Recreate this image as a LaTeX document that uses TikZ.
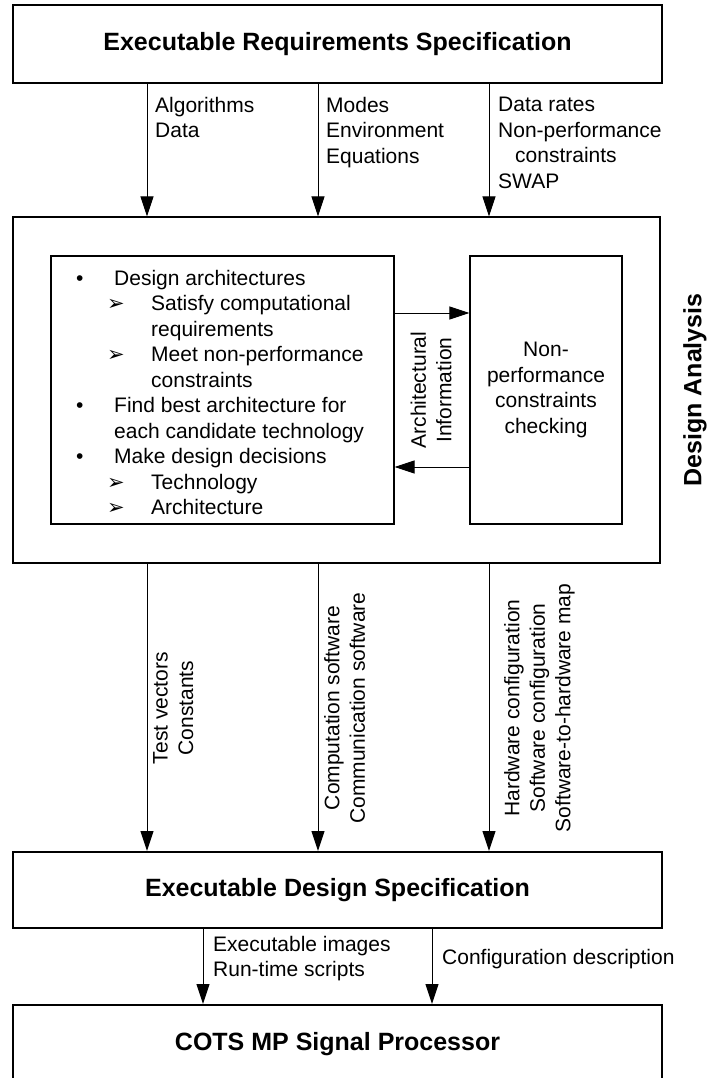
\documentclass[tikz,border=0pt]{standalone}
\usepackage{fontspec}
\setmainfont{Liberation Sans}
\newfontfamily\symfont{DejaVu Sans}
\usetikzlibrary{arrows.meta}

% text sizes (1pt = 1 unit of the drawing)
\newcommand\lblfont{\fontsize{21}{25.5}\selectfont}
\newcommand\titlefont{\fontsize{25}{30}\selectfont\bfseries}
% list markers
\newcommand\dotpoint{\makebox[38pt][l]{•}}
\newcommand\subpoint{\hspace*{31pt}\makebox[44pt][l]{\symfont\fontsize{21}{25}\selectfont ➢}}

\tikzset{
  heavybox/.style={draw, line width=2pt, inner sep=0pt, font=\titlefont},
  lightbox/.style={draw, line width=1.2pt, inner sep=0pt},
  arr/.style={line width=1pt, -{Triangle[length=20pt,width=13pt]}},
  lbl/.style={font=\lblfont, align=left, inner sep=0pt, anchor=north west},
  vlbl/.style={font=\lblfont, align=center, inner sep=0pt, rotate=90, anchor=north},
}

\begin{document}
\begin{tikzpicture}[x=1pt, y=-1pt]
\useasboundingbox (0,0) rectangle (711,1078);
\clip (0,0) rectangle (711,1078);
\fill[white] (0,0) rectangle (711,1078);

% column positions of the vertical flows
\coordinate (c1) at (147,0);
\coordinate (c2) at (318,0);
\coordinate (c3) at (489,0);
\coordinate (d1) at (203,0);
\coordinate (d2) at (432,0);
\coordinate (ya) at (0,313);
\coordinate (yb) at (0,467);

% main blocks
\node[heavybox, minimum width=649pt, minimum height=78pt] (req) at (337.5,44)
  {Executable Requirements Specification};
\node[lightbox, minimum width=647pt, minimum height=346pt] (da) at (336.5,390) {};
\node[heavybox, minimum width=649pt, minimum height=76pt] (eds) at (337.5,890)
  {Executable Design Specification};
\node[heavybox, minimum width=649pt, minimum height=78pt] (cots) at (337.5,1044)
  {COTS MP Signal Processor};

% inside the design analysis block
\node[lightbox, minimum width=343pt, minimum height=268pt] (tasks) at (222.5,390) {};
\node[lightbox, minimum width=152pt, minimum height=268pt, font=\lblfont, align=center]
  (check) at (546,390) {Non-\\performance\\constraints\\checking};
\node[lbl] (tasklist) at (76,270) {%
  \dotpoint Design architectures\\
  \subpoint Satisfy computational\\
  \hspace*{75pt}requirements\\
  \subpoint Meet non-performance\\
  \hspace*{75pt}constraints\\
  \dotpoint Find best architecture for\\
  \hspace*{38pt}each candidate technology\\
  \dotpoint Make design decisions\\
  \subpoint Technology\\
  \subpoint Architecture};
\node[vlbl, anchor=center] (archinfo) at (431,390) {Architectural\\Information};
\node[font=\titlefont, rotate=90, inner sep=0pt] (dalabel) at (695,390) {Design Analysis};

\draw[arr] (tasks.east |- ya) -- (check.west |- ya);
\draw[arr] (check.west |- yb) -- (tasks.east |- yb);

% requirements into design analysis
\draw[arr] (req.south -| c1) -- (da.north -| c1);
\draw[arr] (req.south -| c2) -- (da.north -| c2);
\draw[arr] (req.south -| c3) -- (da.north -| c3);
\node[lbl] (in1) at (155,97) {Algorithms\\Data};
\node[lbl] (in2) at (326,97) {Modes\\Environment\\Equations};
\node[lbl] (in3) at (498,97) {Data rates\\Non-performance\\\hspace*{17pt}constraints\\SWAP};

% design analysis into design specification
\draw[arr] (da.south -| c1) -- (eds.north -| c1);
\draw[arr] (da.south -| c2) -- (eds.north -| c2);
\draw[arr] (da.south -| c3) -- (eds.north -| c3);
\node[vlbl] (out1) at (153,708) {Test vectors\\Constants};
\node[vlbl] (out2) at (324,708) {Computation software\\Communication software};
\node[vlbl] (out3) at (504,708) {Hardware configuration\\Software configuration\\Software-to-hardware map};

% design specification into the processor
\draw[arr] (eds.south -| d1) -- (cots.north -| d1);
\draw[arr] (eds.south -| d2) -- (cots.north -| d2);
\node[lbl] (run1) at (213,936) {Executable images\\Run-time scripts};
\node[lbl] (run2) at (442,949) {Configuration description};
\end{tikzpicture}
\end{document}
